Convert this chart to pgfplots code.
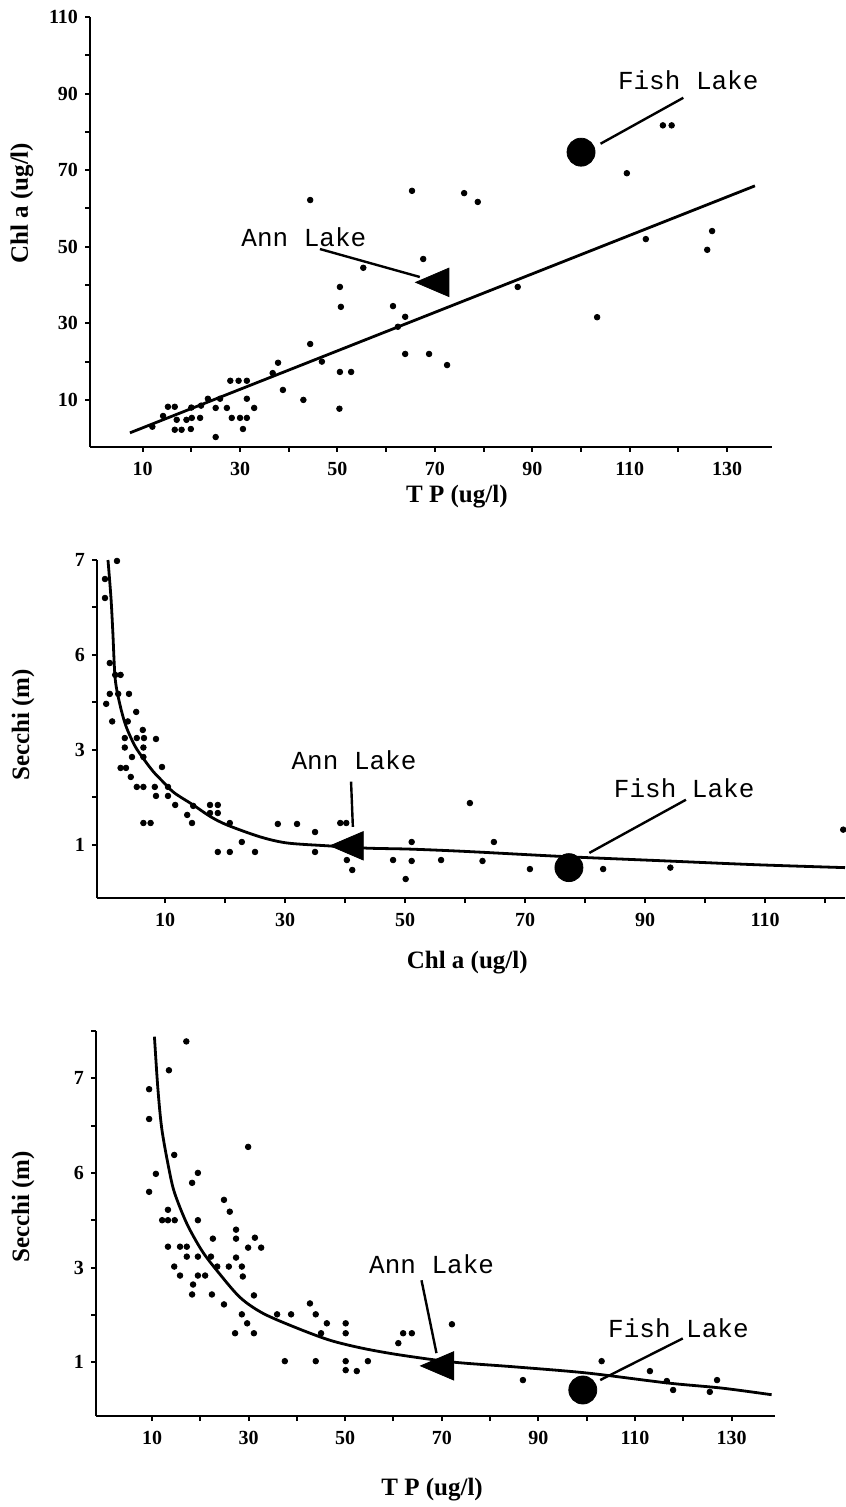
\documentclass[border=0pt]{standalone}
\usepackage{fontspec}
\setmainfont{Liberation Serif}
\newfontfamily\monofont{Liberation Mono}
\usepackage{pgfplots}
\pgfplotsset{compat=1.18}

\pgfplotsset{
  panel/.style={
    scale only axis,
    axis lines*=left,
    clip=false,
    axis line style={line width=1.4pt},
    tick align=outside,
    major tick length=2.5pt,
    minor tick length=2.5pt,
    every tick/.style={black, line width=1pt},
    /pgf/number format/assume math mode=true,
    ticklabel style={font=\fontsize{10}{11}\selectfont\bfseries},
    xticklabel style={yshift=-1.5pt},
    label style={font=\fontsize{12.5}{14}\selectfont\bfseries},
  },
  dots/.style={only marks, mark=*, mark size=1.4pt, black},
  fitline/.style={black, line width=1.4pt, mark=none},
  fish/.style={only marks, mark=*, mark size=7pt, black},
  ann/.style={only marks, mark=triangle*, mark size=8.2pt, black,
    mark options={rotate=90, yscale=1.35}},
}
\tikzset{
  lake/.style={font=\monofont\fontsize{13}{15}\selectfont},
  leader/.style={line width=1.2pt},
}

\begin{document}
\begin{tikzpicture}
\useasboundingbox (0,0) rectangle (422.5pt,-753.5pt);

% --- Chl a vs TP ---
\begin{axis}[panel,
  at={(45pt,-223.5pt)}, anchor=south west,
  width=341pt, height=215pt,
  xmin=-0.8, xmax=139.2, ymin=-2.3, ymax=110,
  xtick={10,30,...,130}, minor xtick={20,40,...,120},
  ytick={10,30,...,110}, minor ytick={20,40,...,100},
  xlabel={T P (ug/l)}, ylabel={Chl a (ug/l)},
  xlabel style={at={(axis description cs:0.538,0)}, anchor=center, yshift=-25pt},
  ylabel style={at={(axis description cs:-0.0997,0.567)}, anchor=center},
]
\addplot[dots] coordinates {
 (12,3.0) (14.2,5.8) (15.2,8.2) (16.6,8.2) (17,4.8) (19,4.8) (16.6,2.2) (18,2.2)
 (19.9,2.4) (20.1,5.3) (21.8,5.3) (20,8) (22,8.5) (23.4,10.3) (25.9,10.3)
 (25,7.9) (27.3,7.9) (25,0.3) (28,15) (29.7,15) (31.4,15) (28.3,5.3) (30,5.3)
 (31.4,5.3) (30.6,2.4) (31.4,10.3) (32.9,7.9) (36.7,17) (37.8,19.7) (38.8,12.6)
 (43,10) (44.4,24.6) (44.4,62.2) (46.8,20) (50.4,7.7) (50.5,17.3) (52.8,17.3)
 (50.5,39.5) (50.7,34.3) (55.3,44.5) (61.4,34.5) (62.4,29.1) (63.9,31.7)
 (63.9,22) (65.3,64.6) (67.6,46.8) (68.8,22) (72.5,19.1) (76,64) (78.8,61.7)
 (87,39.5) (103.3,31.6) (109.4,69.2) (113.3,52) (116.8,81.7) (118.6,81.7)
 (125.9,49.2) (126.9,54.1)
};
\addplot[fitline] coordinates {(7.4,1.4) (135.7,65.9)};
\addplot[fish] coordinates {(100,74.7)};
\addplot[ann] coordinates {(70.6,40.7)};
\draw[leader] (axis cs:104,76.9) -- (axis cs:121,88.9);
\node[lake] at (axis cs:122,93.5) {Fish Lake};
\draw[leader] (axis cs:46.4,49.4) -- (axis cs:66.9,42.1);
\node[lake] at (axis cs:43.1,52.6) {Ann Lake};
\end{axis}

% --- Secchi vs Chl a ---
\begin{axis}[panel,
  at={(48.5pt,-449pt)}, anchor=south west,
  width=374pt, height=169pt,
  xmin=-1.33, xmax=123.3, ymin=-0.12, ymax=7,
  xtick={10,30,...,110}, minor xtick={20,40,...,120},
  ytick={1,3,5,7}, yticklabels={1,3,6,7}, minor ytick={2,4,6},
  xlabel={Chl a (ug/l)}, ylabel={Secchi (m)},
  xlabel style={at={(axis description cs:0.495,0)}, anchor=center, yshift=-32.5pt},
  ylabel style={at={(axis description cs:-0.0989,0.512)}, anchor=center},
]
\addplot[dots] coordinates {
 (2,6.98) (0.0,6.6) (0.0,6.2) (0.8,4.83) (1.7,4.58) (2.6,4.58) (0.8,4.18)
 (2.2,4.18) (4.0,4.18) (0.2,3.97) (5.2,3.8) (1.2,3.6) (3.8,3.6) (6.3,3.42)
 (3.3,3.25) (5.3,3.25) (6.5,3.25) (8.5,3.23) (3.3,3.05) (6.4,3.05) (4.5,2.85)
 (6.4,2.85) (2.6,2.62) (3.5,2.62) (9.5,2.64) (4.3,2.43) (5.3,2.22) (6.4,2.22)
 (8.3,2.22) (8.5,2.03) (10.5,2.22) (10.5,2.03) (11.7,1.84) (13.7,1.63)
 (14.7,1.82) (14.5,1.46) (17.5,1.84) (18.8,1.84) (17.5,1.67) (18.8,1.67)
 (20.8,1.46) (6.4,1.46) (7.6,1.46) (18.8,0.85) (20.8,0.85) (22.8,1.06)
 (25,0.85) (28.8,1.44) (32,1.44) (35,1.27) (35,0.85) (39.2,1.46) (40.2,1.46)
 (40.3,0.68) (41.2,0.47) (48,0.68) (51.1,1.06) (51.1,0.66) (50.1,0.28)
 (56,0.68) (60.8,1.88) (62.9,0.66) (64.8,1.06) (70.8,0.49) (83,0.49)
 (94.2,0.52) (123,1.32)
};
\addplot[fitline, smooth] coordinates {
 (0.5,7.0) (1.0,6.2) (1.3,5.5) (1.7,4.5) (2.5,3.95) (3.5,3.5) (5.0,3.08)
 (6.5,2.8) (8,2.55) (9.5,2.35) (11.5,2.1) (14.7,1.84) (17.5,1.6) (20.3,1.42)
 (25.8,1.17) (30.3,1.04) (37,0.98) (43.7,0.93) (50.8,0.91) (60.3,0.86)
 (77,0.75) (93.7,0.66) (108.7,0.58) (123.3,0.52)
};
\addplot[fish] coordinates {(77.3,0.52)};
\addplot[ann] coordinates {(41.2,0.98)};
\draw[leader] (axis cs:80.7,0.83) -- (axis cs:96.8,1.95);
\node[lake] at (axis cs:96.5,2.2) {Fish Lake};
\draw[leader] (axis cs:41,2.33) -- (axis cs:41.3,1.38);
\node[lake] at (axis cs:41.5,2.79) {Ann Lake};
\end{axis}

% --- Secchi vs TP ---
\begin{axis}[panel,
  at={(48pt,-708pt)}, anchor=south west,
  width=339.5pt, height=192.5pt,
  xmin=-1.6, xmax=139, ymin=-0.14, ymax=8,
  xtick={10,30,...,130}, minor xtick={20,40,...,120},
  ytick={1,3,5,7}, yticklabels={1,3,6,7}, minor ytick={2,4,6,8},
  xlabel={T P (ug/l)}, ylabel={Secchi (m)},
  xlabel style={at={(axis description cs:0.495,0)}, anchor=center, yshift=-37pt},
  ylabel style={at={(axis description cs:-0.1075,0.543)}, anchor=center},
]
\addplot[dots] coordinates {
 (17.1,7.78) (13.5,7.17) (9.4,6.77) (9.4,6.14) (29.9,5.55) (14.6,5.38)
 (10.8,4.98) (19.5,5.0) (18.3,4.79) (9.4,4.6) (24.9,4.43) (26.1,4.18)
 (13.3,4.22) (12.1,4.0) (13.3,4.0) (14.7,4.0) (19.5,4.0) (27.4,3.8) (27.4,3.61)
 (31.3,3.63) (22.6,3.61) (13.3,3.44) (15.8,3.44) (17.2,3.44) (29.9,3.42)
 (32.6,3.42) (17.2,3.23) (19.5,3.23) (22.2,3.23) (27.4,3.21) (14.6,3.02)
 (23.5,3.02) (25.9,3.02) (28.6,3.02) (15.8,2.83) (19.5,2.83) (21,2.83)
 (28.8,2.81) (18.5,2.64) (18.3,2.43) (22.4,2.43) (31.1,2.41) (24.9,2.22)
 (28.6,2.01) (29.7,1.82) (27.2,1.61) (31.1,1.61) (35.9,2.01) (38.8,2.01)
 (42.7,2.24) (43.9,2.01) (46.2,1.82) (45,1.61) (50.1,1.82) (50.1,1.61)
 (37.5,1.02) (43.9,1.02) (50.1,1.02) (54.7,1.02) (50.1,0.83) (52.4,0.81)
 (61,1.4) (62,1.61) (63.8,1.61) (72.1,1.8) (86.8,0.62) (103.1,1.02)
 (113.1,0.81) (116.6,0.6) (117.9,0.41) (127,0.62) (125.5,0.37)
};
\addplot[fitline, smooth] coordinates {
 (10.5,7.88) (11.2,6.8) (12,5.95) (13.3,5.19) (14.6,4.6) (17.2,3.93)
 (20.3,3.36) (23.4,2.94) (28.2,2.37) (33,2.03) (40,1.72) (46.9,1.46)
 (53.7,1.29) (61.4,1.15) (72.3,1.0) (85,0.9) (100,0.77) (116.6,0.56)
 (128,0.45) (138.3,0.31)
};
\addplot[fish] coordinates {(99.2,0.41)};
\addplot[ann] coordinates {(70.2,0.92)};
\draw[leader] (axis cs:102.8,0.62) -- (axis cs:119.9,1.5);
\node[lake] at (axis cs:119,1.72) {Fish Lake};
\draw[leader] (axis cs:65.8,2.73) -- (axis cs:68.9,1.19);
\node[lake] at (axis cs:67.9,3.08) {Ann Lake};
\end{axis}
\end{tikzpicture}
\end{document}
